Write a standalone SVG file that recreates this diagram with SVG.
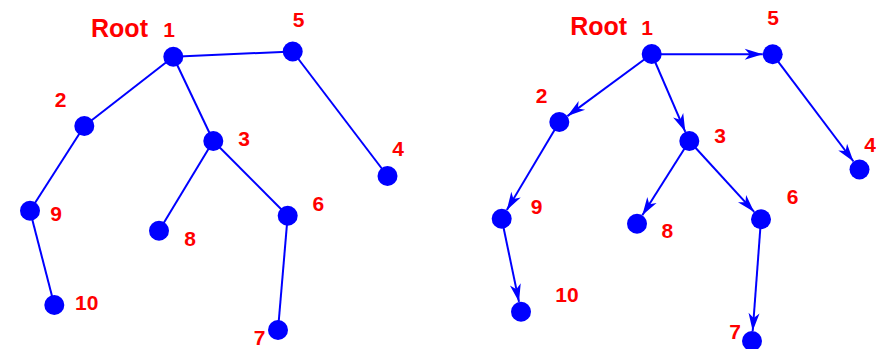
<svg xmlns="http://www.w3.org/2000/svg" width="876" height="349" viewBox="0 0 876 349">
<style>
.e{stroke:#0000ff;stroke-width:2;fill:none}
.a{marker-end:url(#arr)}
.n{fill:#0000ff}
.t{fill:#ff0000;font-family:"Liberation Sans",Arial,sans-serif;font-weight:bold;font-size:21px;text-anchor:middle}
.r{font-size:25px}
</style>
<defs>
<marker id="arr" viewBox="-19 -6 20 12" refX="0" refY="0" markerWidth="20" markerHeight="12" markerUnits="userSpaceOnUse" orient="auto">
<path d="M0,0 L-18,-5.5 L-13,0 L-18,5.5 Z" fill="#0000ff"/>
</marker>
</defs>
<rect width="876" height="349" fill="#ffffff"/>
<g id="connectors">
<line class="e" x1="173.3" y1="56.7" x2="292.7" y2="51.5"/>
<line class="e" x1="173.3" y1="56.7" x2="84.3" y2="126"/>
<line class="e" x1="173.3" y1="56.7" x2="213.3" y2="141"/>
<line class="e" x1="292.7" y1="51.5" x2="387.5" y2="176"/>
<line class="e" x1="84.3" y1="126" x2="30" y2="210.7"/>
<line class="e" x1="30" y1="210.7" x2="54.3" y2="305"/>
<line class="e" x1="213.3" y1="141" x2="159" y2="230.7"/>
<line class="e" x1="213.3" y1="141" x2="287.7" y2="215.7"/>
<line class="e" x1="287.7" y1="215.7" x2="278" y2="330"/>
<line class="e a" x1="651.7" y1="54.3" x2="762.7" y2="54.3"/>
<line class="e a" x1="651.7" y1="54" x2="567.4" y2="116.1"/>
<line class="e a" x1="651.7" y1="54" x2="685.3" y2="131.8"/>
<line class="e a" x1="772.7" y1="54.3" x2="853.5" y2="161.5"/>
<line class="e a" x1="559.3" y1="122" x2="506.8" y2="210.1"/>
<line class="e a" x1="501.7" y1="218.7" x2="519" y2="301.9"/>
<line class="e a" x1="689.3" y1="141" x2="642.3" y2="215.2"/>
<line class="e a" x1="689.3" y1="141" x2="754.2" y2="211.9"/>
<line class="e a" x1="761" y1="219.3" x2="752.7" y2="331"/>
</g>
<g id="left-root-label"><text class="t r" x="119.5" y="36.7">Root</text></g>
<g id="L1"><circle class="n" cx="173.3" cy="56.7" r="10"/><text class="t" x="169" y="37.3">1</text></g>
<g id="L5"><circle class="n" cx="292.7" cy="51.5" r="10"/><text class="t" x="298.7" y="27.3">5</text></g>
<g id="L2"><circle class="n" cx="84.3" cy="126" r="10"/><text class="t" x="60.5" y="106.7">2</text></g>
<g id="L3"><circle class="n" cx="213.3" cy="141" r="10"/><text class="t" x="244" y="146">3</text></g>
<g id="L4"><circle class="n" cx="387.5" cy="176" r="10"/><text class="t" x="398" y="156">4</text></g>
<g id="L9"><circle class="n" cx="30" cy="210.7" r="10"/><text class="t" x="56" y="220.7">9</text></g>
<g id="L8"><circle class="n" cx="159" cy="230.7" r="10"/><text class="t" x="190" y="245.7">8</text></g>
<g id="L6"><circle class="n" cx="287.7" cy="215.7" r="10"/><text class="t" x="318.3" y="210.7">6</text></g>
<g id="L10"><circle class="n" cx="54.3" cy="305" r="10"/><text class="t" x="86.7" y="310">10</text></g>
<g id="L7"><circle class="n" cx="278" cy="330" r="10"/><text class="t" x="259.5" y="345">7</text></g>
<g id="right-root-label"><text class="t r" x="598.7" y="35">Root</text></g>
<g id="R1"><circle class="n" cx="651.7" cy="54" r="10"/><text class="t" x="647" y="35">1</text></g>
<g id="R5"><circle class="n" cx="772.7" cy="54.3" r="10"/><text class="t" x="773" y="25">5</text></g>
<g id="R2"><circle class="n" cx="559.3" cy="122" r="10"/><text class="t" x="541.5" y="103.3">2</text></g>
<g id="R3"><circle class="n" cx="689.3" cy="141" r="10"/><text class="t" x="720" y="142.7">3</text></g>
<g id="R4"><circle class="n" cx="859.5" cy="169.5" r="10"/><text class="t" x="870" y="151.7">4</text></g>
<g id="R9"><circle class="n" cx="501.7" cy="218.7" r="10"/><text class="t" x="536.5" y="214.3">9</text></g>
<g id="R8"><circle class="n" cx="637" cy="223.7" r="10"/><text class="t" x="667.3" y="238.3">8</text></g>
<g id="R6"><circle class="n" cx="761" cy="219.3" r="10"/><text class="t" x="792.7" y="204.3">6</text></g>
<g id="R10"><circle class="n" cx="521" cy="311.7" r="10"/><text class="t" x="567" y="301.7">10</text></g>
<g id="R7"><circle class="n" cx="752" cy="341" r="10"/><text class="t" x="735" y="339">7</text></g>
</svg>
